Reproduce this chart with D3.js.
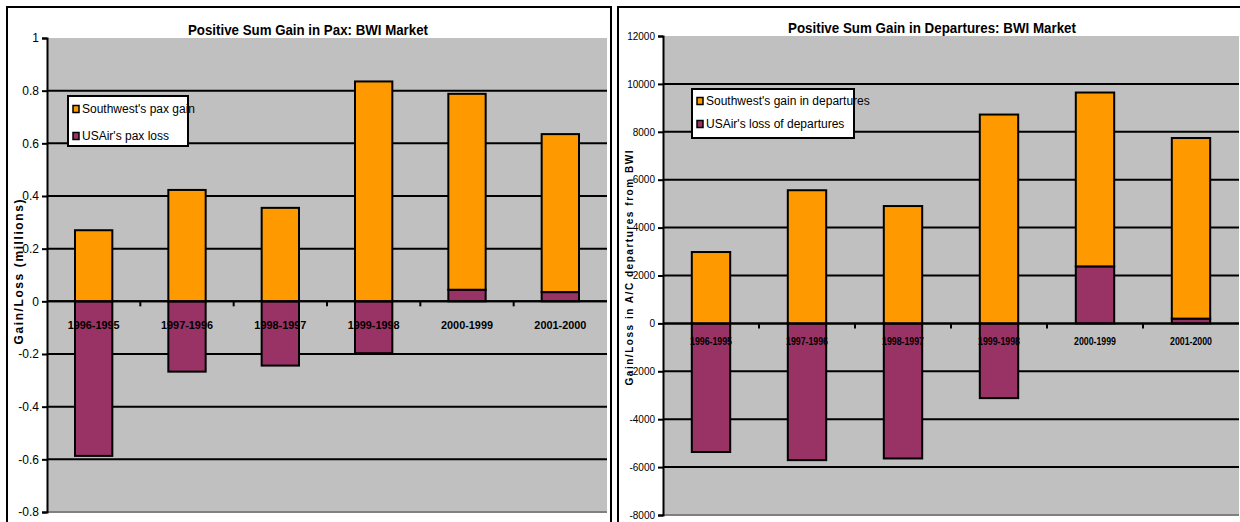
<!DOCTYPE html>
<html>
<head>
<meta charset="utf-8">
<script src="https://cdn.jsdelivr.net/npm/d3@7"></script>
<style>
  body { margin: 0; background: #fff; }
  svg { display: block; font-family: "Liberation Sans", Arial, sans-serif; }
</style>
</head>
<body>
<script>
var categories = ["1996-1995", "1997-1996", "1998-1997", "1999-1998", "2000-1999", "2001-2000"];

// passengers, millions
var paxSouthwest = [0.27, 0.423, 0.355, 0.835, 0.744, 0.60];
var paxUSAir = [-0.587, -0.267, -0.244, -0.197, 0.044, 0.035];
var paxTicks = [1, 0.8, 0.6, 0.4, 0.2, 0, -0.2, -0.4, -0.6, -0.8];

// departures
var depSouthwest = [2980, 5560, 4900, 8720, 7260, 7540];
var depUSAir = [-5370, -5710, -5640, -3120, 2380, 200];
var depTicks = [12000, 10000, 8000, 6000, 4000, 2000, 0, -2000, -4000, -6000, -8000];

var orange = "#FF9900", purple = "#993366";

var svg = d3.select("body").append("svg")
  .attr("width", 1240)
  .attr("height", 522);

function drawPanel(p) {
  var g = svg.append("g");

  // panel frame
  g.append("rect")
    .attr("x", p.box[0]).attr("y", p.box[1])
    .attr("width", p.box[2]).attr("height", p.box[3])
    .attr("fill", "#fff").attr("stroke", "#000").attr("stroke-width", 2);

  var x = d3.scaleBand().domain(categories).range([p.left, p.right]).padding(0);
  var y = d3.scaleLinear().domain([p.ticks[p.ticks.length - 1], p.ticks[0]]).range([p.bottom, p.top]);

  g.append("rect")
    .attr("x", p.left).attr("y", p.top)
    .attr("width", p.right - p.left).attr("height", p.bottom - p.top)
    .attr("fill", "#C0C0C0");

  // gridlines
  g.selectAll(".grid").data(p.ticks.filter(function(t) { return t != p.ticks[0] && t != p.ticks[p.ticks.length - 1]; }))
    .enter().append("line")
    .attr("x1", p.left).attr("x2", p.right)
    .attr("y1", function(d) { return y(d); }).attr("y2", function(d) { return y(d); })
    .attr("stroke", "#000").attr("stroke-width", 2);

  g.append("line")
    .attr("x1", p.left).attr("x2", p.right)
    .attr("y1", p.bottom).attr("y2", p.bottom)
    .attr("stroke", "#808080").attr("stroke-width", 2);

  var rows = categories.map(function(c, i) {
    return { cat: c, usair: p.usair[i], southwest: p.southwest[i] };
  });
  var stacked = d3.stack().keys(["usair", "southwest"]).offset(d3.stackOffsetDiverging)(rows);
  var colors = { usair: purple, southwest: orange };
  var bw = x.bandwidth() * 0.4;

  stacked.forEach(function(layer) {
    g.selectAll(".bar-" + layer.key).data(layer).enter().append("rect")
      .attr("x", function(d) { return x(d.data.cat) + (x.bandwidth() - bw) / 2; })
      .attr("y", function(d) { return y(Math.max(d[0], d[1])); })
      .attr("width", bw)
      .attr("height", function(d) { return Math.abs(y(d[0]) - y(d[1])); })
      .attr("fill", colors[layer.key])
      .attr("stroke", "#000").attr("stroke-width", 2);
  });

  // zero line + category ticks
  g.append("line")
    .attr("x1", p.left).attr("x2", p.right)
    .attr("y1", y(0)).attr("y2", y(0))
    .attr("stroke", "#000").attr("stroke-width", 2);
  g.selectAll(".xtick").data(categories.slice(1)).enter().append("line")
    .attr("x1", function(d) { return x(d); }).attr("x2", function(d) { return x(d); })
    .attr("y1", y(0)).attr("y2", y(0) + 5)
    .attr("stroke", "#000").attr("stroke-width", 2);

  g.selectAll(".xlab").data(categories).enter().append("text")
    .attr("x", function(d) { return x(d) + x.bandwidth() / 2; })
    .attr("y", y(0) + p.xLabDy)
    .attr("text-anchor", "middle")
    .attr("font-size", p.xLabSize).attr("font-weight", "bold")
    .attr("textLength", p.xLabLen).attr("lengthAdjust", "spacingAndGlyphs")
    .text(function(d) { return d; });

  // y axis
  var yAxis = d3.axisLeft(y).tickValues(p.ticks).tickSize(5).tickPadding(3)
    .tickFormat(p.fmt);
  var ax = g.append("g").attr("transform", "translate(" + p.left + ",0)").call(yAxis);
  ax.select(".domain").attr("stroke", "#000").attr("stroke-width", 2);
  ax.selectAll(".tick line").attr("stroke", "#000").attr("stroke-width", 2);
  ax.selectAll(".tick text").attr("font-size", p.yLabSize)
    .attr("font-family", "'Liberation Sans', Arial, sans-serif").attr("fill", "#000");

  // titles
  g.append("text")
    .attr("x", p.titleX).attr("y", p.titleY)
    .attr("text-anchor", "middle")
    .attr("font-size", 14).attr("font-weight", "bold")
    .attr("textLength", p.titleLen).attr("lengthAdjust", "spacingAndGlyphs")
    .text(p.title);

  g.append("text")
    .attr("transform", "translate(" + p.yTitleX + "," + p.yTitleY + ") rotate(-90)")
    .attr("text-anchor", "middle")
    .attr("font-size", p.yTitleSize).attr("font-weight", "bold")
    .attr("textLength", p.yTitleLen).attr("lengthAdjust", "spacing")
    .text(p.yTitle);

  // legend
  var lg = g.append("g");
  lg.append("rect")
    .attr("x", p.legend[0]).attr("y", p.legend[1])
    .attr("width", p.legend[2]).attr("height", p.legend[3])
    .attr("fill", "#fff").attr("stroke", "#000").attr("stroke-width", 2);
  var items = [{ name: p.legendNames[0], color: orange }, { name: p.legendNames[1], color: purple }];
  items.forEach(function(it, i) {
    var cy = p.legend[1] + p.legendRow0 + i * p.legendStep;
    lg.append("rect")
      .attr("x", p.legend[0] + 5).attr("y", cy - 3.5)
      .attr("width", 6).attr("height", 7)
      .attr("fill", it.color).attr("stroke", "#000").attr("stroke-width", 1.5);
    lg.append("text")
      .attr("x", p.legend[0] + 14).attr("y", cy + 4)
      .attr("font-size", 12)
      .text(it.name);
  });
}

drawPanel({
  box: [7, 7, 604, 530],
  left: 47, right: 607, top: 38, bottom: 512,
  ticks: paxTicks, southwest: paxSouthwest, usair: paxUSAir,
  fmt: function(d) { return String(d); },
  yLabSize: 12,
  xLabDy: 28, xLabSize: 11, xLabLen: 52,
  title: "Positive Sum Gain in Pax: BWI Market", titleX: 308, titleY: 35, titleLen: 240,
  yTitle: "Gain/Loss (millions)", yTitleX: 23, yTitleY: 272, yTitleSize: 12, yTitleLen: 145,
  legend: [68, 96, 120, 50], legendRow0: 13, legendStep: 27,
  legendNames: ["Southwest's pax gain", "USAir's pax loss"]
});

drawPanel({
  box: [618, 7, 640, 530],
  left: 663, right: 1239, top: 36, bottom: 515,
  ticks: depTicks, southwest: depSouthwest, usair: depUSAir,
  fmt: function(d) { return String(d); },
  yLabSize: 10,
  xLabDy: 22, xLabSize: 10, xLabLen: 42,
  title: "Positive Sum Gain in Departures: BWI Market", titleX: 932, titleY: 33, titleLen: 288,
  yTitle: "Gain/Loss in A/C departures from BWI", yTitleX: 633, yTitleY: 268, yTitleSize: 10, yTitleLen: 235,
  legend: [692, 89, 162, 49], legendRow0: 12, legendStep: 23,
  legendNames: ["Southwest's gain in departures", "USAir's loss of departures"]
});
</script>
</body>
</html>
